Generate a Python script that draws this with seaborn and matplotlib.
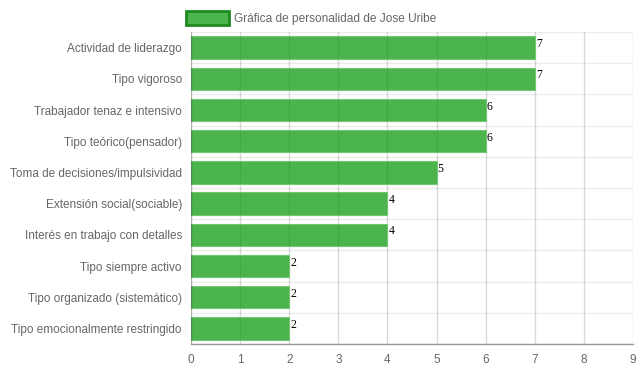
import matplotlib
matplotlib.use("Agg")
import matplotlib.pyplot as plt
from matplotlib.patches import Patch
import seaborn as sns
import numpy as np
import pandas as pd

categorias = [
    "Actividad de liderazgo",
    "Tipo vigoroso",
    "Trabajador tenaz e intensivo",
    "Tipo teórico(pensador)",
    "Toma de decisiones/impulsividad",
    "Extensión social(sociable)",
    "Interés en trabajo con detalles",
    "Tipo siempre activo",
    "Tipo organizado (sistemático)",
    "Tipo emocionalmente restringido",
]
valores = [7, 7, 6, 6, 5, 4, 4, 2, 2, 2]
serie = "Gráfica de personalidad de Jose Uribe"

df = pd.DataFrame({"categoria": categorias, "valor": valores})

sns.set_style("white")
plt.rcParams["font.family"] = ["Liberation Sans", "DejaVu Sans"]

fig = plt.figure(figsize=(6.39, 3.72), dpi=100)
ax = fig.add_axes([191 / 639, 1 - 344 / 372, (633 - 191) / 639, (344 - 32) / 372])

verde = (0.0, 149 / 255, 0.0, 0.7)
sns.barplot(data=df, x="valor", y="categoria", orient="h", color=verde,
            width=0.72, saturation=1, ax=ax, zorder=3)
for p in ax.patches:
    p.set_facecolor(verde)
    p.set_edgecolor((0.45, 0.78, 0.45))
    p.set_linewidth(0.8)

ax.set_xlim(0, 9)
ax.set_ylim(len(categorias) - 0.5, -0.5)
ax.set_xticks(range(0, 10))
ax.set_xlabel("")
ax.set_ylabel("")

# rejilla vertical
for xv in range(1, 10):
    ax.axvline(xv, color=(0, 0, 0, 0.15), lw=1, zorder=2)
ax.axvline(0, color=(0, 0, 0, 0.3), lw=1, zorder=4)

# líneas entre categorías
ax.set_yticks(np.arange(-0.5, len(categorias) + 0.5, 1), minor=True)
ax.grid(which="minor", axis="y", color="#ececec", lw=1, zorder=1)
ax.tick_params(axis="y", which="minor", length=7.2, color="#ececec", width=1)
ax.tick_params(axis="y", which="major", length=0, pad=6.5, labelsize=8.5, labelcolor="#666666")
ax.tick_params(axis="x", which="major", length=3, color=(0, 0, 0, 0.15), pad=4,
               labelsize=8.5, labelcolor="#666666")

for s in ["top", "right", "left"]:
    ax.spines[s].set_visible(False)
ax.spines["bottom"].set_color("#999999")
ax.spines["bottom"].set_linewidth(1)

# etiquetas de valor
for i, v in enumerate(valores):
    ax.text(v + 0.02, i - 0.36 + 0.06, str(v), ha="left", va="top",
            fontsize=8.5, family="Liberation Serif", color="black", zorder=5)

leg = fig.legend(handles=[Patch(facecolor=verde, edgecolor="#1f8a1f", linewidth=2, label=serie)],
                 loc="upper center", bbox_to_anchor=(0.487, 1.0), frameon=False,
                 fontsize=8.6, handlelength=3.6, handleheight=1.4, handletextpad=0.5)
for t in leg.get_texts():
    t.set_color("#666666")

fig.savefig("out.png", dpi=100)
